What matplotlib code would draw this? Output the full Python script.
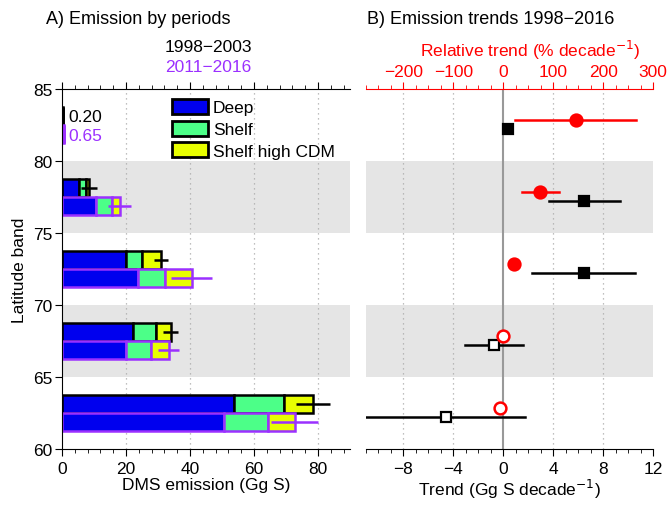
import numpy as np
import matplotlib
matplotlib.use("Agg")
import matplotlib.pyplot as plt
from matplotlib.patches import Patch

plt.rcParams['font.family'] = ['Liberation Sans', 'DejaVu Sans']
plt.rcParams['axes.unicode_minus'] = True

###############################################################################
# data
###############################################################################
bands = [60, 65, 70, 75, 80]
periods = ["1998\u22122003", "2011\u22122016"]
components = ["Deep", "Shelf", "Shelf high CDM"]

# period 1 (1998-2003)
deep_p1 = [53.9, 22.3, 20.1, 5.4, 0.20]
shelf_p1 = [15.4, 7.0, 5.0, 2.2, 0.0]
hcdm_p1 = [9.1, 4.7, 5.7, 0.8, 0.0]
err_p1 = [5.2, 2.3, 2.2, 2.6, 0.0]

# period 2 (2011-2016)
deep_p2 = [50.5, 20.1, 23.8, 10.5, 0.65]
shelf_p2 = [13.8, 7.8, 8.4, 5.2, 0.0]
hcdm_p2 = [8.4, 5.4, 8.4, 2.4, 0.0]
err_p2 = [7.4, 3.4, 6.4, 3.6, 0.0]

# trends (Gg S per decade)
trend = [-4.58, -0.77, 6.48, 6.5, 0.37]
trend_lo = [-11.5, -3.1, 2.3, 3.7, 0.37]
trend_hi = [1.76, 1.55, 10.56, 9.36, 0.37]
trend_sig = [False, False, True, True, True]

# relative trends (% per decade)
rel = [-6, -1, 21, 74, 145]
rel_lo = [-6, -1, 15, 37, 24]
rel_hi = [-6, -1, 27, 112, 266]
rel_sig = [False, False, True, True, True]

###############################################################################
# styles
###############################################################################
comp_colors = ["#0000ee", "#4cff88", "#e8ff00"]
period_colors = ["black", "#9b30ff"]
shade = "#e5e5e5"
grid_kw = dict(color="#aaaaaa", linestyle=(0, (1, 3)), linewidth=0.9)
fs = 12.5

fig = plt.figure(figsize=(6.67, 5.06), dpi=100)
axA = fig.add_axes([62 / 667, 1 - 450 / 506, 288 / 667, 360 / 506])
axB = fig.add_axes([366 / 667, 1 - 450 / 506, 287 / 667, 360 / 506])

for ax in (axA, axB):
    ax.set_ylim(60, 85)
    for b in (65, 75):
        ax.axhspan(b, b + 5, color=shade, zorder=0, lw=0)
    ax.spines['right'].set_visible(False)
    ax.tick_params(labelsize=fs, width=0.8, direction='out')

############
# panel A
############
axA.set_xlim(0, 90)
axA.set_xticks([0, 20, 40, 60, 80])
axA.set_xticks(np.arange(0, 91, 4), minor=True)
axA.set_yticks([60, 65, 70, 75, 80, 85])
for x in [20, 40, 60, 80]:
    axA.axvline(x, zorder=0.5, **grid_kw)
axA.tick_params(axis='x', which='both', top=True)
axA.tick_params(axis='x', which='major', length=5)
axA.tick_params(axis='x', which='minor', length=3, width=0.6)
axA.tick_params(axis='y', length=5, pad=2)

series = [(deep_p1, shelf_p1, hcdm_p1, err_p1, 3.125),
          (deep_p2, shelf_p2, hcdm_p2, err_p2, 1.875)]
for k, (deep, shelf, hcdm, err, off) in enumerate(series):
    col = period_colors[k]
    y = np.array(bands) + off
    left = np.zeros(len(bands))
    for vals, fc in zip((deep, shelf, hcdm), comp_colors):
        vals = np.array(vals)
        axA.barh(y, vals, left=left, height=1.25, color=fc,
                 edgecolor=col, linewidth=1.8, zorder=2)
        left = left + vals
    for yy, tot, e in zip(y, left, err):
        if e > 0:
            axA.plot([tot - e, tot + e], [yy, yy], color=col, lw=1.8,
                     zorder=3, solid_capstyle='butt')

axA.text(2, 83.1, "0.20", color=period_colors[0], fontsize=fs, va='center')
axA.text(2, 81.75, "0.65", color=period_colors[1], fontsize=fs, va='center')

handles = [Patch(facecolor=c, edgecolor='black', linewidth=2)
           for c in comp_colors]
axA.legend(handles, components, loc='upper left',
           bbox_to_anchor=((172 - 62) / 288, (450 - 100) / 360),
           frameon=False, fontsize=fs, handlelength=2.05, handleheight=0.95,
           labelspacing=0.3, handletextpad=0.3, borderpad=0,
           borderaxespad=0)

axA.set_xlabel("DMS emission (Gg S)", fontsize=fs, labelpad=1)
axA.set_ylabel("Latitude band", fontsize=fs, labelpad=4)

############
# panel B
############
axB.set_xlim(-11, 12)
axB.set_xticks([-8, -4, 0, 4, 8, 12])
axB.set_xticks(np.arange(-11, 13, 1), minor=True)
axB.set_yticks([])
axB.spines['left'].set_visible(False)
axB.spines['top'].set_visible(False)
axB.tick_params(axis='x', which='major', length=5)
axB.tick_params(axis='x', which='minor', length=3, width=0.6)
for x in [-8, -4, 4, 8]:
    axB.axvline(x, zorder=0.5, **grid_kw)
axB.axvline(0, color="#999999", lw=1.5, zorder=1)

yb = np.array(bands) + 2.2
for yy, t, lo, hi, s in zip(yb, trend, trend_lo, trend_hi, trend_sig):
    axB.plot([lo, hi], [yy, yy], color='black', lw=1.8, zorder=3)
    axB.plot(t, yy, 's', ms=7.5, mfc='black' if s else 'white',
             mec='black', mew=1.6, zorder=4)

axB.set_xlabel("Trend (Gg S decade$^{-1}$)", fontsize=fs, labelpad=1)

axR = axB.twiny()
axR.set_xlim(-275, 300)
axR.set_ylim(60, 85)
axR.set_xticks([-200, -100, 0, 100, 200, 300])
axR.set_xticks(np.arange(-275, 301, 25), minor=True)
for sp in ('left', 'right', 'bottom'):
    axR.spines[sp].set_visible(False)
axR.spines['top'].set_color('red')
axR.tick_params(axis='x', which='both', colors='red', labelsize=fs)
axR.tick_params(axis='x', which='major', length=5, width=0.8, pad=2)
axR.tick_params(axis='x', which='minor', length=3, width=0.6)

yr = np.array(bands) + 2.85
for yy, r, lo, hi, s in zip(yr, rel, rel_lo, rel_hi, rel_sig):
    if hi > lo:
        axR.plot([lo, hi], [yy, yy], color='red', lw=1.8, zorder=3)
    axR.plot(r, yy, 'o', ms=8.5, mfc='red' if s else 'white',
             mec='red', mew=1.8, zorder=4)

############
# titles
############
fig.text(46 / 667, 1 - 20 / 506, "A) Emission by periods", fontsize=13,
         va='center', ha='left')
fig.text(367 / 667, 1 - 20 / 506, "B) Emission trends 1998\u22122016",
         fontsize=13, va='center', ha='left')
fig.text(208 / 667, 1 - 48 / 506, periods[0], color=period_colors[0],
         fontsize=fs, ha='center', va='center')
fig.text(208 / 667, 1 - 67 / 506, periods[1], color=period_colors[1],
         fontsize=fs, ha='center', va='center')
fig.text(530 / 667, 1 - 50 / 506, "Relative trend (% decade$^{-1}$)",
         color='red', fontsize=fs, ha='center', va='center')

plt.savefig("out.png", dpi=100)
